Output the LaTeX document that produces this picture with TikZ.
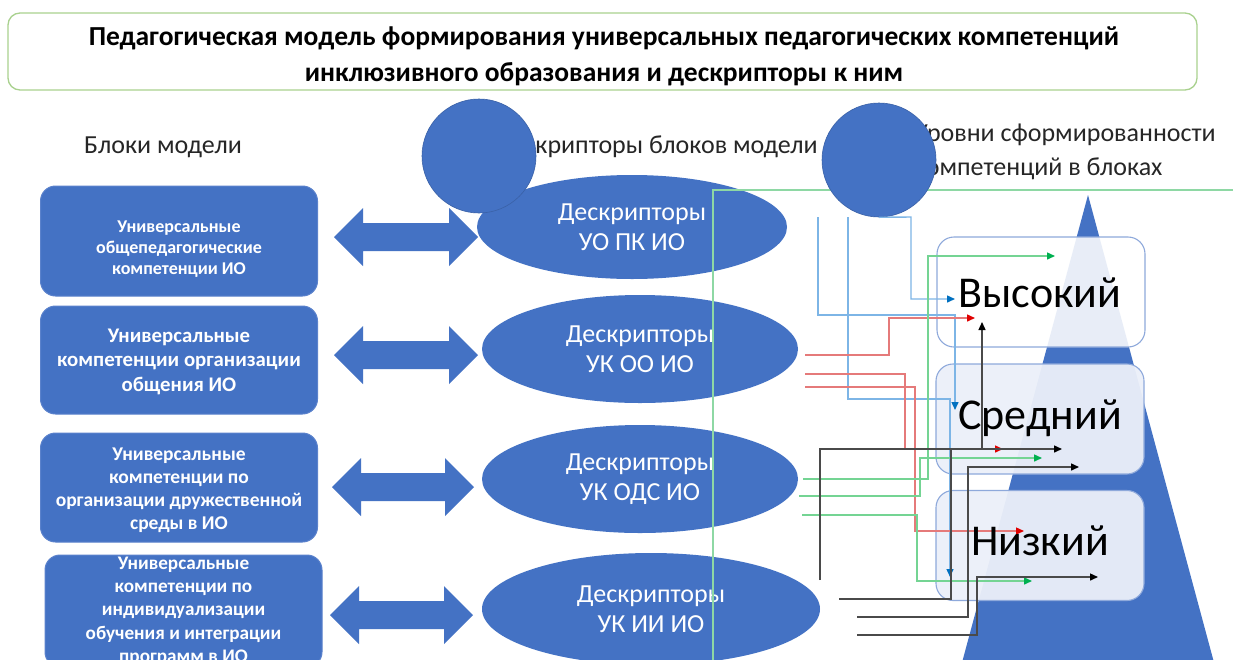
\documentclass[tikz,border=0pt]{standalone}
\usepackage{fontspec}
\setmainfont{Carlito}
\usetikzlibrary{shapes.geometric,arrows.meta}
\definecolor{mblue}{HTML}{4472C4}
\definecolor{mbluedge}{HTML}{5B82CC}
\definecolor{tgreen}{HTML}{A9D18E}
\definecolor{lgreen}{HTML}{8ED8A4}
\definecolor{lvlborder}{HTML}{8EA9DB}
\definecolor{lvlfill}{HTML}{ECF0F9}
\definecolor{cblue}{HTML}{7DB5E6}
\definecolor{ablue}{HTML}{0070C0}
\definecolor{cred}{HTML}{E57A7A}
\definecolor{ared}{HTML}{E00000}
\definecolor{cgreen}{HTML}{74D493}
\definecolor{agreen}{HTML}{00B050}
\definecolor{cblack}{HTML}{4A4A4A}
\tikzset{
  titlebox/.style={draw=tgreen, line width=1.3pt, rounded corners=12pt, fill=white, minimum width=1189pt, minimum height=77pt, inner sep=0pt},
  titletext/.style={font=\fontsize{27.5}{36}\selectfont\bfseries, align=center, text=black, inner sep=0pt},
  hdrtext/.style={font=\fontsize{26}{34}\selectfont, text=black!85, inner sep=0pt},
  blockbox/.style={draw=mbluedge, fill=mblue, line width=1pt, rounded corners=15pt, minimum width=277pt, minimum height=#1, inner sep=0pt},
  blocktext/.style={text=white, align=center, inner sep=0pt},
  descell/.style={ellipse, fill=mblue, inner sep=0pt, text=white, align=center, font=\fontsize{26}{30}\selectfont},
  bigcirc/.style={circle, fill=mblue, draw=mblue!85!black, line width=0.6pt, minimum size=114pt, inner sep=0pt},
  lvlbox/.style={draw=lvlborder, line width=1.1pt, rounded corners=17pt, fill=#1, minimum width=208pt, minimum height=110pt, inner sep=0pt},
  lvltext/.style={font=\fontsize{44}{50}\selectfont, text=black, inner sep=0pt},
  conn/.style={line width=1.4pt},
  bconn/.style={conn, draw=cblue, -{Triangle[length=8pt,width=7pt,color=ablue]}},
  rconn/.style={conn, draw=cred, -{Triangle[length=8pt,width=7pt,color=ared]}},
  gconn/.style={conn, draw=cgreen, -{Triangle[length=8pt,width=7pt,color=agreen]}},
  kconn/.style={conn, draw=cblack, -{Triangle[length=8pt,width=7pt,color=black]}},
}
% double block arrow: left tip x, right tip x, centre y
\newcommand\dblarr[3]{%
  \fill[mblue] (#1,#3) -- (#1+29,#3-29) -- (#1+29,#3-14) -- (#2-29,#3-14) -- (#2-29,#3-29)
    -- (#2,#3) -- (#2-29,#3+29) -- (#2-29,#3+14) -- (#1+29,#3+14) -- (#1+29,#3+29) -- cycle;}
\begin{document}
\begin{tikzpicture}[x=1pt,y=-1pt]
\useasboundingbox (0,0) rectangle (1233,659);
\clip (0,0) rectangle (1233,659);
\fill[white] (0,0) rectangle (1233,659);

% title
\node[titlebox] (title) at (602.5,51.5) {};
\node[titletext] (titletxt) at (604,56) {Педагогическая модель формирования универсальных педагогических компетенций\\инклюзивного образования и дескрипторы к ним};

% headers
\node[hdrtext, anchor=base] (h1) at (163,153) {Блоки модели};
\node[hdrtext, anchor=base east] (h2) at (818,153) {Дескрипторы блоков модели};
\node[hdrtext, anchor=north west, align=left] (h3) at (914,124) {Уровни сформированности\\компетенций в блоках};

% blocks
\node[blockbox=110pt] (b1) at (179,241) {};
\node[blockbox=108pt] (b2) at (179,360) {};
\node[blockbox=109pt] (b3) at (179,487.5) {};
\node[blockbox=112pt] (b4) at (183.5,611) {};
\node[blocktext, font=\fontsize{18}{21}\selectfont\bfseries] (b1t) at (179,249) {Универсальные\\общепедагогические\\компетенции ИО};
\node[blocktext, font=\fontsize{20.8}{24.5}\selectfont\bfseries] (b2t) at (179,361.6) {Универсальные\\компетенции организации\\общения ИО};
\node[blocktext, font=\fontsize{19.5}{23}\selectfont\bfseries] (b3t) at (179,490) {Универсальные\\компетенции по\\организации дружественной\\среды в ИО};
\node[blocktext, font=\fontsize{19.2}{23.3}\selectfont\bfseries] (b4t) at (183.5,611) {Универсальные\\компетенции по\\индивидуализации\\обучения и интеграции\\программ в ИО};

% double arrows
\dblarr{334}{478}{237}
\dblarr{334}{478}{355}
\dblarr{332}{474}{487}
\dblarr{330}{473}{615}

% descriptor ellipses
\node[descell, minimum width=310pt, minimum height=104pt] (e1) at (632,227) {Дескрипторы\\УО ПК ИО};
\node[descell, minimum width=316pt, minimum height=108pt] (e2) at (640,349) {Дескрипторы\\УК ОО ИО};
\node[descell, minimum width=316pt, minimum height=108pt] (e3) at (640,479) {Дескрипторы\\УК ОДС ИО};
\node[descell, minimum width=338pt, minimum height=112pt] (e4) at (651,609) {Дескрипторы\\УК ИИ ИО};

% green frame line
\coordinate (gcorner) at (713,190);
\draw[lgreen, line width=1.4pt] (713,670) -- (gcorner) -- (1240,190);

% circles
\node[bigcirc] (c1) at (479,156) {};
\node[bigcirc] (c2) at (879,160) {};

% pyramid
\fill[mblue] (1088,195) -- (1216,670) -- (960,670) -- cycle;

% level boxes
\node[lvlbox=white, fill opacity=0.88] (lv1) at (1041,292) {};
\node[lvlbox=lvlfill, fill opacity=0.95] (lv2) at (1040,419) {};
\node[lvlbox=lvlfill, fill opacity=0.95] (lv3) at (1040,545.5) {};

% connector start / end points
\coordinate (bBs) at (818,217);
\coordinate (bCs) at (848,217);
\coordinate (bAe) at (955,299);
\coordinate (bBe) at (955,410);
\coordinate (bCe) at (950,577);
\coordinate (r1s) at (805,355);
\coordinate (r2s) at (805,374);
\coordinate (r3s) at (805,387);
\coordinate (r1e) at (975,318);
\coordinate (r2e) at (1003,449);
\coordinate (r3e) at (1024,531);
\coordinate (g1s) at (803,479);
\coordinate (g2s) at (799,496);
\coordinate (g3s) at (802,515);
\coordinate (g1e) at (1055,256);
\coordinate (g2e) at (1042,458);
\coordinate (g3e) at (1032,581);
\coordinate (k1s) at (820,580);
\coordinate (k2s) at (839,599);
\coordinate (k3s) at (857,617);
\coordinate (k4s) at (857,635);
\coordinate (k1e) at (982,322);
\coordinate (k2e) at (1062,449);
\coordinate (k3e) at (1079,467);
\coordinate (k4e) at (1098,577);

% blue connectors
\draw[bconn] (c2.south) -- (911,217) -- (911,299) -- (bAe);
\draw[bconn] (bBs) -- (818,315) -- (955,315) -- (bBe);
\draw[bconn] (bCs) -- (848,399) -- (950,399) -- (bCe);
% red connectors
\draw[rconn] (r1s) -- (889,355) -- (889,318) -- (r1e);
\draw[rconn] (r2s) -- (905,374) -- (905,449) -- (r2e);
\draw[rconn] (r3s) -- (915,387) -- (915,531) -- (r3e);
% green connectors
\draw[gconn] (g1s) -- (928,479) -- (928,256) -- (g1e);
\draw[gconn] (g2s) -- (920,496) -- (920,458) -- (g2e);
\draw[gconn] (g3s) -- (917,515) -- (917,581) -- (g3e);
% black connectors
\draw[kconn] (k1s) -- (820,449) -- (982,449) -- (k1e);
\draw[kconn] (k2s) -- (951,599) -- (951,449) -- (k2e);
\draw[kconn] (k3s) -- (968,617) -- (968,467) -- (k3e);
\draw[kconn] (k4s) -- (977,635) -- (977,577) -- (k4e);

% level texts
\node[lvltext, anchor=base] (t1) at (1040,307) {Высокий};
\node[lvltext, anchor=base] (t2) at (1040,429) {Средний};
\node[lvltext, anchor=base] (t3) at (1040,555) {Низкий};
\end{tikzpicture}
\end{document}
